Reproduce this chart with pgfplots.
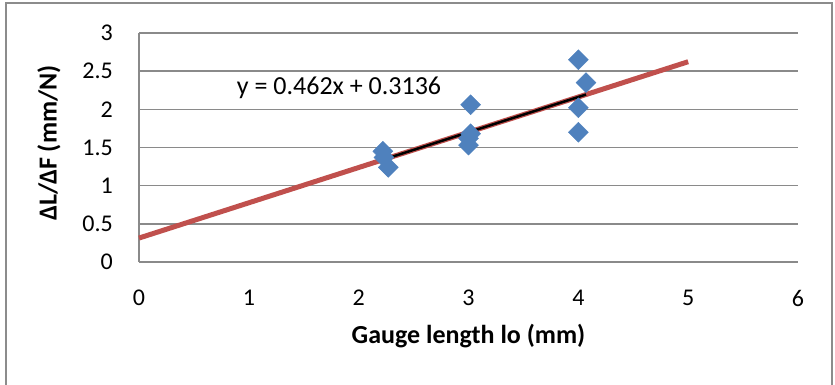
\documentclass[border=0pt]{standalone}
\usepackage{fontspec}
\setmainfont{Carlito}
\usepackage{pgfplots}
\pgfplotsset{compat=1.18}
\definecolor{xblue}{HTML}{4F81BD}
\definecolor{xred}{HTML}{C0504D}
\definecolor{xgrid}{HTML}{8A8A8A}
\definecolor{xframe}{HTML}{8C8C8C}
\begin{document}
\begin{tikzpicture}
\useasboundingbox (0,0) rectangle (835bp,385bp);
\draw[xframe, line width=1.3bp] (6bp,-5bp) -- (6bp,382bp) -- (832bp,382bp) -- (832bp,-5bp);
\begin{axis}[
  at={(139bp,123bp)}, anchor=south west,
  scale only axis, width=659bp, height=229bp,
  xmin=0, xmax=6, ymin=0, ymax=3,
  xtick={0,1,2,3,4,5,6}, ytick={0,0.5,1,1.5,2,2.5,3},
  yticklabels={0,0.5,1,1.5,2,2.5,3},
  /pgf/number format/assume math mode=true,
  axis lines=left,
  axis line style={draw=xgrid, line width=1.5bp, -},
  ymajorgrids, grid style={draw=xgrid, line width=1.5bp},
  major tick length=0pt,
  tick label style={font=\fontsize{24bp}{28bp}\selectfont, inner sep=0pt},
  yticklabel style={anchor=east, xshift=-26bp},
  xticklabel style={anchor=center, yshift=-36bp},
  xlabel={\textbf{Gauge length lo (mm)}},
  ylabel={\textbf{ΔL/ΔF (mm/N)}},
  label style={font=\fontsize{26bp}{30bp}\selectfont},
  xlabel style={at={(axis description cs:0.5,-0.358)}, anchor=base, inner sep=0pt},
  ylabel style={at={(axis description cs:-0.125,0.52)}, anchor=base, rotate=0, inner sep=0pt},
  clip=false,
]
\addplot[only marks, mark=diamond*, mark size=10bp, color=xblue, mark options={draw=xblue, fill=xblue, xscale=1.333}] coordinates {
  (2.22,1.45) (2.23,1.37) (2.27,1.24)
  (3.02,2.06) (3.02,1.68) (3.00,1.62) (3.00,1.53)
  (4.00,2.65) (4.07,2.35) (4.00,2.02) (4.00,1.70)
};
\addplot[color=xred, line width=5bp] coordinates {(0,0.3136) (5,2.6236)};
\addplot[color=black, line width=2.5bp] coordinates {(2.22,1.3392) (4.07,2.1939)};
\node[anchor=west, inner sep=0pt, font=\fontsize{26bp}{30bp}\selectfont] at (axis cs:0.89,2.28) {y = 0.462x + 0.3136};
\end{axis}
\end{tikzpicture}
\end{document}
